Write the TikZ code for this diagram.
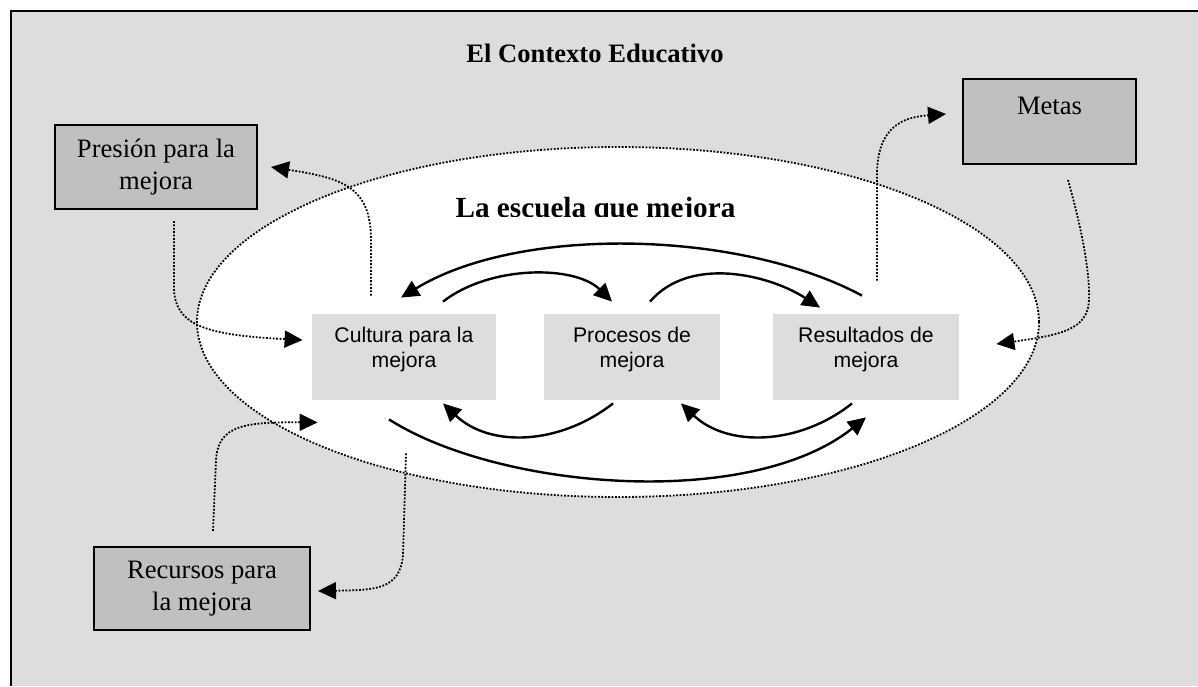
\documentclass[tikz,border=0pt]{standalone}
\usepackage{fontspec}
\setmainfont{Liberation Serif}
\newfontfamily\arialfont{Liberation Sans}
\usetikzlibrary{arrows.meta,calc,shapes.geometric}

\definecolor{fondo}{RGB}{221,221,221}
\definecolor{oscuro}{RGB}{192,192,192}

\tikzset{
  caja/.style={draw, line width=1pt, fill=oscuro, align=center, inner sep=0pt,
    font=\fontsize{13.3}{16}\selectfont},
  cajaclara/.style={fill=fondo, align=center, inner sep=0pt, minimum height=43pt,
    text depth=9pt, font=\arialfont\fontsize{10.6}{12.5}\selectfont},
  flujo/.style={line width=1.2pt, -{Triangle[length=9pt,width=8.5pt]}},
  punteado/.style={line width=0.9pt, dash pattern=on 0.9pt off 0.8pt},
  enlace/.style={punteado, -{Triangle[length=9pt,width=8.5pt]}},
}

\begin{document}
\begin{tikzpicture}[x=0.5pt,y=-0.5pt]
  \useasboundingbox (0,0) rectangle (1198,686);

  % Marco del contexto
  \fill[fondo] (11,11) rectangle (1198,686);
  \draw[line width=1pt] (11,686) -- (11,11) -- (1198,11);
  \node[font=\bfseries\fontsize{13.3}{16}\selectfont, anchor=base] (contexto) at (595,62) {El Contexto Educativo};

  % La escuela
  \node[ellipse, fill=white, draw, punteado, inner sep=0pt, minimum width=421pt, minimum height=175pt] (escuela) at (618,322) {};
  \begin{scope}
    \clip (420,180) rectangle (780,216);
    \node[font=\bfseries\fontsize{14.6}{17}\selectfont, anchor=base] (lema) at (595.5,217) {La escuela que mejora};
  \end{scope}

  % Cajas de la escuela
  \foreach \name/\x/\w/\txt in {cult/404/92/{Cultura para la\\mejora},
                                proc/632/88/{Procesos de\\mejora},
                                res/866/93/{Resultados de\\mejora}} {
    \node[cajaclara, minimum width=\w pt] (\name) at (\x,356.5) {\txt};
  }

  % Cajas externas
  \node[caja, minimum width=101pt, minimum height=42pt] (presion) at (156,167) {Presión para la\\mejora};
  \node[caja, minimum width=86.5pt, minimum height=42.5pt] (metas) at (1049.5,121.5) {Metas\\\mbox{}};
  \node[caja, minimum width=108pt, minimum height=41.5pt] (recursos) at (202,588.5) {Recursos para\\la mejora};

  % Flechas entre las cajas
  \draw[flujo] ($(res.north)+(-4,-17.5)$) .. controls (740,230) and (520,225) .. ($(cult.north)+(-3,-15.5)$);
  \draw[flujo] ($(cult.north)+(39,-11.5)$) .. controls (490,265) and (575,265) .. ($(proc.north)+(-20,-11.5)$);
  \draw[flujo] ($(proc.north)+(18,-11.5)$) .. controls (690,255) and (770,275) .. ($(res.north)+(-46,-5.5)$);
  \draw[flujo] ($(proc.south)+(-19,3.5)$) .. controls (560,445) and (490,448) .. ($(cult.south)+(39,3.5)$);
  \draw[flujo] ($(res.south)+(-14,3.5)$) .. controls (800,445) and (728,448) .. ($(proc.south)+(49,3.5)$);
  \draw[flujo] ($(cult.south)+(-15,19.5)$) .. controls (500,490) and (750,510) .. ($(res.south)+(0,17.5)$);

  % Flechas punteadas con el contexto
  \draw[enlace] ($(cult.north)+(-33,-17.5)$) -- (371,240) .. controls (371,185) and (340,178) .. ($(presion.east)+(13,0)$);
  \draw[enlace] ($(presion.south)+(18,11)$) -- (174,290) .. controls (176,325) and (205,335) .. ($(cult.west)+(-9,-16.5)$);
  \draw[enlace] ($(recursos.north)+(11,-15)$) -- (216,460) .. controls (218,425) and (245,422) .. ($(cult.south west)+(6,22.5)$);
  \draw[enlace] ($(cult.south)+(2,53.5)$) -- (403,555) .. controls (400,590) and (375,590) .. ($(recursos.east)+(7,2.5)$);
  \draw[enlace] ($(res.north)+(11,-32.5)$) -- (877,175) .. controls (877,125) and (905,117) .. ($(metas.west)+(-16,-7.5)$);
  \draw[enlace] ($(metas.south)+(18.5,15)$) .. controls (1085,240) and (1090,280) .. (1089,300) .. controls (1088,330) and (1060,335) .. ($(res.east)+(37,-12.5)$);
\end{tikzpicture}
\end{document}
